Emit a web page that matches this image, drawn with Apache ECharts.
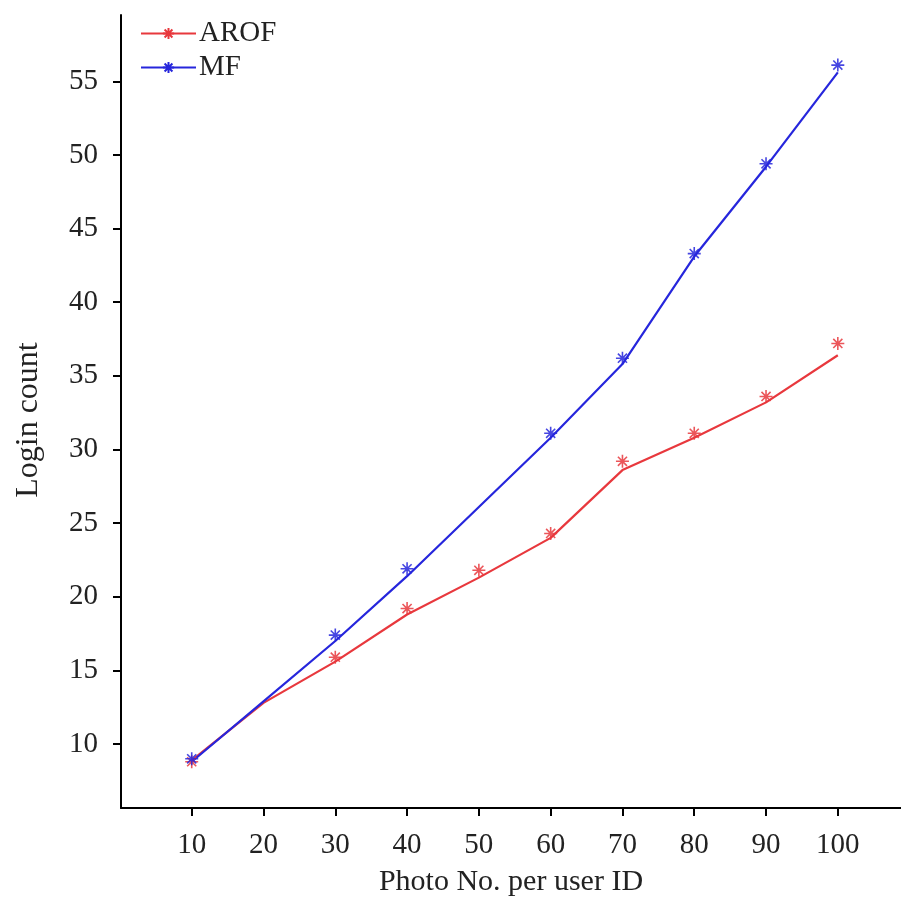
<!DOCTYPE html>
<html>
<head>
<meta charset="utf-8">
<script src="https://cdn.jsdelivr.net/npm/echarts@6/dist/echarts.min.js"></script>
<style>html,body{margin:0;padding:0;background:#fff}#c{width:901px;height:905px}</style>
</head>
<body>
<div id="c"></div>
<script>
// ---- data ----
const xTicks = [10, 20, 30, 40, 50, 60, 70, 80, 90, 100];
const yTicks = [10, 15, 20, 25, 30, 35, 40, 45, 50, 55];

const arofLineX = [10, 20, 30, 40, 50, 60, 70, 80, 90, 100];
const arofLineY = [8.9, 12.8, 15.6, 18.8, 21.3, 24.0, 28.6, 30.8, 33.2, 36.4];
const arofMarkX = [10, 30, 40, 50, 60, 70, 80, 90, 100];
const arofMarkY = [8.8, 15.9, 19.2, 21.8, 24.3, 29.2, 31.1, 33.6, 37.2];

const mfLineX = [10, 20, 30, 40, 50, 60, 70, 80, 90, 100];
const mfLineY = [8.8, 12.9, 17.0, 21.4, 26.1, 30.8, 35.8, 43.1, 49.2, 55.6];
const mfMarkX = [10, 30, 40, 60, 70, 80, 90, 100];
const mfMarkY = [9.0, 17.4, 21.9, 31.1, 36.2, 43.3, 49.4, 56.1];

const seriesNames = ['AROF', 'MF'];
const colors = ['#e8383d', '#2626dc'];

// ---- chart ----
const zip = (a, b) => a.map((v, i) => [v, b[i]]);
const star = 'path://M0,-10L0,10M-10,0L10,0M-7,-7L7,7M-7,7L7,-7';
const font = '"Liberation Serif", "DejaVu Serif", serif';
const txt = '#222';

function lineSeries(name, color, data) {
  return {
    name, type: 'line', data, symbol: star, symbolSize: 13, showSymbol: false,
    lineStyle: { color, width: 2.2 },
    itemStyle: { color: 'transparent', borderColor: color, borderWidth: 1.6 },
    animation: false, z: 2
  };
}
function markSeries(name, color, data) {
  return {
    name, type: 'scatter', data, symbol: star, symbolSize: 13,
    itemStyle: { color: 'transparent', borderColor: color, borderWidth: 1.6, opacity: 0.85 },
    animation: false, z: 3
  };
}

const chart = echarts.init(document.getElementById('c'), null, { renderer: 'canvas' });
chart.setOption({
  backgroundColor: '#fff',
  textStyle: { fontFamily: font },
  grid: { left: 121, right: 0, top: 15, bottom: 97, containLabel: false },
  legend: {
    data: seriesNames,
    left: 135, top: 14, orient: 'vertical',
    itemWidth: 55, itemHeight: 14, itemGap: 5,
    textStyle: { fontFamily: font, fontSize: 29, color: txt, padding: [0, 0, 0, -2] },
    selectedMode: false
  },
  xAxis: {
    type: 'value', min: 0.15, max: 108.8,
    name: 'Photo No. per user ID', nameLocation: 'middle', nameGap: 59,
    nameTextStyle: { fontFamily: font, fontSize: 30, color: txt },
    axisLine: { lineStyle: { color: '#000', width: 2 } },
    axisTick: { show: true, inside: false, length: 8, lineStyle: { color: '#000', width: 2 }, customValues: xTicks },
    axisLabel: { fontFamily: font, fontSize: 29, color: txt, margin: 23, customValues: xTicks },
    splitLine: { show: false }
  },
  yAxis: {
    type: 'value', min: 5.66, max: 59.5,
    name: 'Login count', nameLocation: 'middle', nameGap: 76,
    nameTextStyle: { fontFamily: font, fontSize: 32, color: txt, padding: [0, 17, 0, 0] },
    axisLine: { show: true, lineStyle: { color: '#000', width: 2 } },
    axisTick: { show: true, inside: false, length: 8, lineStyle: { color: '#000', width: 2 }, customValues: yTicks },
    axisLabel: { fontFamily: font, fontSize: 29, color: txt, margin: 23, customValues: yTicks },
    splitLine: { show: false }
  },
  series: [
    lineSeries(seriesNames[0], colors[0], zip(arofLineX, arofLineY)),
    lineSeries(seriesNames[1], colors[1], zip(mfLineX, mfLineY)),
    markSeries(seriesNames[0], colors[0], zip(arofMarkX, arofMarkY)),
    markSeries(seriesNames[1], colors[1], zip(mfMarkX, mfMarkY))
  ]
});
</script>
</body>
</html>
